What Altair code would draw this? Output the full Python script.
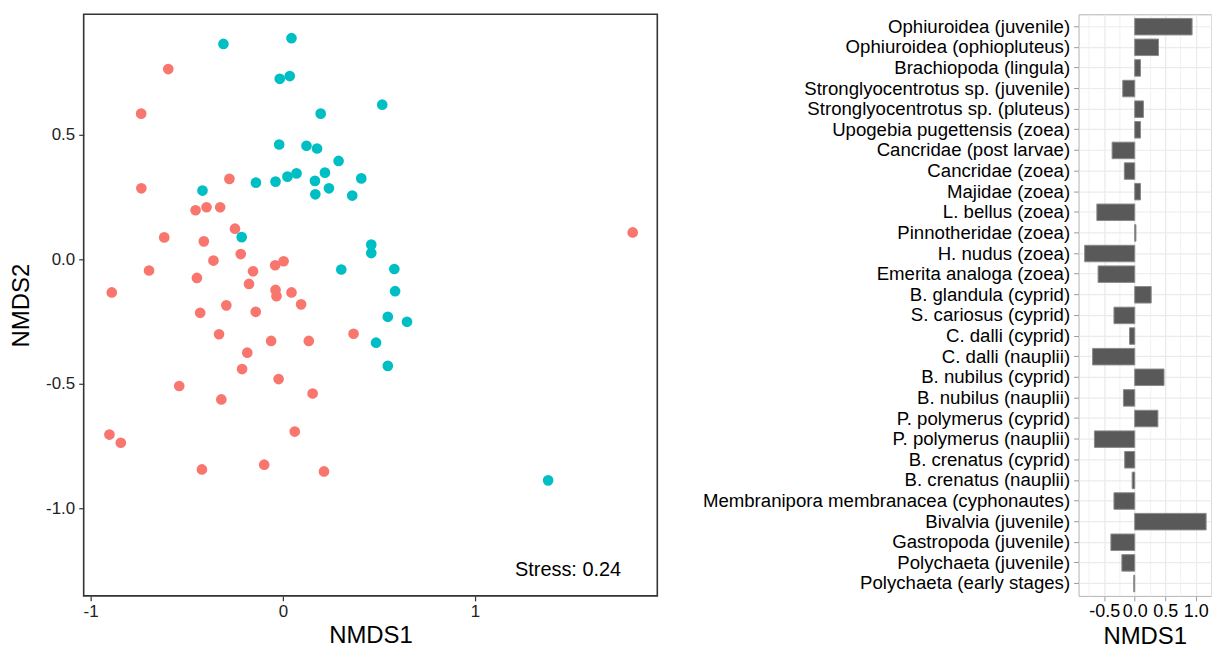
import altair as alt
import pandas as pd

# ---- NMDS site scores ----
red_x = [-0.596, -0.737, -0.736, -0.278, -0.454, -0.397, -0.326, -0.249, -0.617, -0.411,
         -0.219, -0.361, -0.696, -0.447, -0.155, -0.040, 0.004, -0.176, -0.890, -0.038,
         -0.033, 0.045, 0.095, -0.294, -0.430, -0.141, -0.332, 0.368, -0.061, 0.135,
         -0.185, -0.212, -0.022, -0.539, 0.155, -0.320, -0.902, -0.843, 0.062, -0.421,
         -0.097, 0.214, 1.820]
red_y = [0.764, 0.585, 0.285, 0.323, 0.197, 0.209, 0.209, 0.123, 0.088, 0.072,
         0.021, -0.005, -0.045, -0.075, -0.048, -0.024, -0.008, -0.099, -0.133, -0.123,
         -0.148, -0.133, -0.181, -0.185, -0.215, -0.211, -0.301, -0.299, -0.328, -0.328,
         -0.375, -0.441, -0.481, -0.509, -0.539, -0.563, -0.704, -0.737, -0.692, -0.844,
         -0.825, -0.852, 0.108]
cyan_x = [-0.309, 0.045, -0.016, 0.036, 0.197, -0.019, 0.123, 0.178, 0.290, 0.408,
          0.071, 0.024, -0.038, -0.140, 0.167, 0.219, 0.240, 0.169, 0.361, -0.418,
          -0.214, 0.304, 0.460, 0.460, 0.517, 0.580, 0.584, 0.546, 0.646, 0.485,
          0.546, 1.380]
cyan_y = [0.865, 0.888, 0.725, 0.736, 0.585, 0.461, 0.456, 0.445, 0.395, 0.325,
          0.345, 0.332, 0.312, 0.308, 0.315, 0.348, 0.285, 0.261, 0.256, 0.276,
          0.089, -0.041, 0.059, 0.025, 0.621, -0.039, -0.128, -0.231, -0.251, -0.335,
          -0.428, -0.888]
groups = ["A", "B"]
group_colors = ["#F8766D", "#00BFC4"]
stress_label = "Stress: 0.24"

# ---- species scores on NMDS1 ----
species = [
    "Ophiuroidea (juvenile)", "Ophiuroidea (ophiopluteus)", "Brachiopoda (lingula)",
    "Stronglyocentrotus sp. (juvenile)", "Stronglyocentrotus sp. (pluteus)",
    "Upogebia pugettensis (zoea)", "Cancridae (post larvae)", "Cancridae (zoea)",
    "Majidae (zoea)", "L. bellus (zoea)", "Pinnotheridae (zoea)", "H. nudus (zoea)",
    "Emerita analoga (zoea)", "B. glandula (cyprid)", "S. cariosus (cyprid)",
    "C. dalli (cyprid)", "C. dalli (nauplii)", "B. nubilus (cyprid)", "B. nubilus (nauplii)",
    "P. polymerus (cyprid)", "P. polymerus (nauplii)", "B. crenatus (cyprid)",
    "B. crenatus (nauplii)", "Membranipora membranacea (cyphonautes)", "Bivalvia (juvenile)",
    "Gastropoda (juvenile)", "Polychaeta (juvenile)", "Polychaeta (early stages)",
]
nmds1 = [0.94, 0.39, 0.095, -0.196, 0.143, 0.095, -0.37, -0.17, 0.095, -0.62,
         0.02, -0.82, -0.60, 0.27, -0.34, -0.085, -0.69, 0.48, -0.185, 0.38,
         -0.66, -0.164, -0.042, -0.34, 1.17, -0.39, -0.21, -0.016]

pts = pd.DataFrame({
    "NMDS1": red_x + cyan_x,
    "NMDS2": red_y + cyan_y,
    "group": [groups[0]] * len(red_x) + [groups[1]] * len(cyan_x),
})
ann = pd.DataFrame({"NMDS1": [1.76], "NMDS2": [-1.25], "label": [stress_label]})
bars = pd.DataFrame({"species": species, "NMDS1": nmds1})

FONT = "Liberation Sans"
fix_minus = "replace(format(datum.value, '{f}'), '\u2212', '-')"

xsc = alt.Scale(domain=[-1.036, 1.948], nice=False, zero=False)
ysc = alt.Scale(domain=[-1.352, 0.984], nice=False, zero=False)

scatter = alt.Chart(pts).mark_circle(size=115, opacity=1).encode(
    x=alt.X("NMDS1:Q", scale=xsc,
            axis=alt.Axis(values=[-1, 0, 1], labelExpr=fix_minus.format(f="d"),
                          grid=False, domain=False, tickSize=5, tickColor="#333333",
                          tickWidth=1.2, labelFontSize=17, labelColor="#222222",
                          labelPadding=3, labelFlush=False, titleFontSize=24,
                          titleFontWeight="normal", titlePadding=4, titleColor="#000000")),
    y=alt.Y("NMDS2:Q", scale=ysc,
            axis=alt.Axis(values=[-1.0, -0.5, 0.0, 0.5], labelExpr=fix_minus.format(f=".1f"),
                          grid=False, domain=False, tickSize=5, tickColor="#333333",
                          tickWidth=1.2, labelFontSize=17, labelColor="#222222",
                          labelPadding=4, labelFlush=False, titleFontSize=24,
                          titleFontWeight="normal", titlePadding=12, titleColor="#000000")),
    color=alt.Color("group:N", scale=alt.Scale(domain=groups, range=group_colors), legend=None),
)
stress = alt.Chart(ann).mark_text(align="right", baseline="middle", fontSize=20,
                                  font=FONT, color="#000000").encode(
    x=alt.X("NMDS1:Q", scale=xsc), y=alt.Y("NMDS2:Q", scale=ysc), text="label:N")

left = alt.layer(scatter, stress).properties(
    width=576, height=584,
    view=alt.ViewBackground(stroke="#333333", strokeWidth=1.6))

major = "indexof([-0.5, 0, 0.5, 1], datum.value) >= 0"
bar = alt.Chart(bars).mark_bar(color="#595959", stroke="#8a8a8a", strokeWidth=1).encode(
    y=alt.Y("species:N", sort=species,
            scale=alt.Scale(paddingInner=0.2, paddingOuter=0.2),
            axis=alt.Axis(title=None, domain=False, grid=True, gridColor="#ebebeb",
                          gridWidth=1.2, bandPosition=0.5, tickSize=5, tickColor="#999999",
                          labelFontSize=18.7, labelColor="#000000", labelPadding=4,
                          labelLimit=600)),
    x=alt.X("NMDS1:Q", scale=alt.Scale(domain=[-0.92, 1.25], nice=False, zero=False),
            axis=alt.Axis(values=[-0.75, -0.5, -0.25, 0, 0.25, 0.5, 0.75, 1.0, 1.25],
                          labelExpr=major + " ? " + fix_minus.format(f=".1f") + " : ''",
                          domain=False, grid=True, gridColor="#ebebeb",
                          gridWidth={"condition": {"test": major, "value": 1.3}, "value": 0.7},
                          tickOpacity={"condition": {"test": major, "value": 1}, "value": 0},
                          tickSize=5, tickColor="#999999", labelFontSize=18,
                          labelColor="#000000", labelPadding=2, labelOverlap=False,
                          labelFlush=False, titleFontSize=24, titleFontWeight="normal",
                          titlePadding=4, titleColor="#000000")),
).properties(width=133, height=584,
             view=alt.ViewBackground(stroke="#b3b3b3", strokeWidth=1))

chart = alt.hconcat(left, bar, spacing=43).properties(
    padding={"left": 0, "top": 4, "right": 0, "bottom": 0}
).configure(font=FONT).configure_view(stroke=None)

chart.save("out.html", embed_options={"renderer": "svg", "actions": False})
